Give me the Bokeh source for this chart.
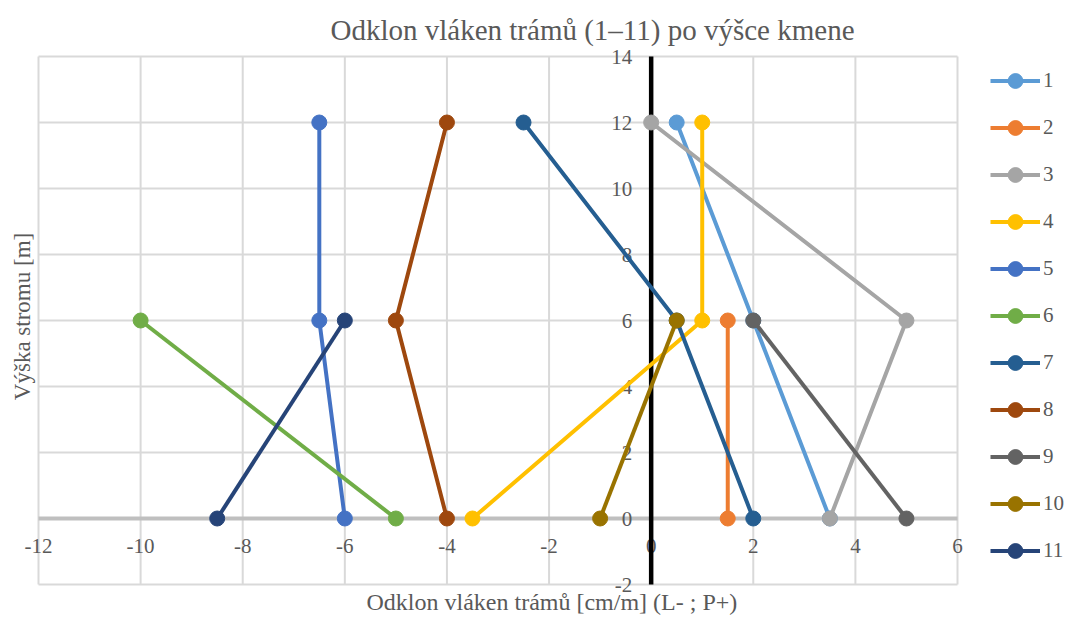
import math
from bokeh.plotting import figure
from bokeh.models import Legend, LegendItem, Range1d
from bokeh.core.properties import value
from bokeh.embed import file_html
from bokeh.resources import INLINE

# ---- data ----
series_labels = ["1", "2", "3", "4", "5", "6", "7", "8", "9", "10", "11"]
series_colors = ["#5B9BD5", "#ED7D31", "#A5A5A5", "#FFC000", "#4472C4", "#70AD47",
                 "#255E91", "#9E480E", "#636363", "#997300", "#264478"]

h1 = [0, 6, 12];  d1 = [3.5, 2.0, 0.5]
h2 = [0, 6];      d2 = [1.5, 1.5]
h3 = [0, 6, 12];  d3 = [3.5, 5.0, 0.0]
h4 = [0, 6, 12];  d4 = [-3.5, 1.0, 1.0]
h5 = [0, 6, 12];  d5 = [-6.0, -6.5, -6.5]
h6 = [0, 6];      d6 = [-5.0, -10.0]
h7 = [0, 6, 12];  d7 = [2.0, 0.5, -2.5]
h8 = [0, 6, 12];  d8 = [-4.0, -5.0, -4.0]
h9 = [0, 6];      d9 = [5.0, 2.0]
h10 = [0, 6];     d10 = [-1.0, 0.5]
h11 = [0, 6];     d11 = [-8.5, -6.0]

heights = [h1, h2, h3, h4, h5, h6, h7, h8, h9, h10, h11]
deviations = [d1, d2, d3, d4, d5, d6, d7, d8, d9, d10, d11]

x_ticks = [-12, -10, -8, -6, -4, -2, 0, 2, 4, 6]
x_tick_labels = ["-12", "-10", "-8", "-6", "-4", "-2", "0", "2", "4", "6"]
y_ticks = [-2, 0, 2, 4, 6, 8, 10, 12, 14]
y_tick_labels = ["-2", "0", "2", "4", "6", "8", "10", "12", "14"]

title_text = "Odklon vláken trámů (1–11) po výšce kmene"
x_title = "Odklon vláken trámů [cm/m] (L- ; P+)"
y_title = "Výška stromu [m]"

# axis extents
X0, X1, Y0, Y1 = -12, 6, -2, 14

# layout (pixels): canvas and plot-area box inside it
W, H = 1064, 617
PL, PR, PT, PB = 38, 957, 56, 584

FONT = "Liberation Serif"
TXT = "#595959"
GRID = "#D9D9D9"

sx = (PR - PL) / (X1 - X0)
sy = (PB - PT) / (Y1 - Y0)
xr = Range1d(X0 - PL / sx, X1 + (W - PR) / sx)
yr = Range1d(Y0 - (H - PB) / sy, Y1 + PT / sy)

p = figure(width=W, height=H, x_range=xr, y_range=yr,
           output_backend="svg", toolbar_location=None,
           x_axis_location=None, y_axis_location=None,
           min_border_left=0, min_border_right=0, min_border_top=0, min_border_bottom=0)
p.background_fill_color = "white"
p.border_fill_color = "white"
p.outline_line_color = None
p.xgrid.visible = False
p.ygrid.visible = False

# grid lines (every 2 units, including plot-area border)
p.segment(x0=x_ticks, y0=[Y0] * len(x_ticks), x1=x_ticks, y1=[Y1] * len(x_ticks),
          line_color=GRID, line_width=2)
p.segment(x0=[X0] * len(y_ticks), y0=y_ticks, x1=[X1] * len(y_ticks), y1=y_ticks,
          line_color=GRID, line_width=2)

# horizontal axis line through y=0
p.segment(x0=[X0], y0=[0], x1=[X1], y1=[0], line_color="#BFBFBF", line_width=4)

def txt(texts, xs, ys, size, align="center", dx=0, dy=0, angle=0.0):
    p.text(x=xs, y=ys, text=texts, x_offset=dx, y_offset=dy, angle=angle,
           text_align=value(align), text_baseline=value("middle"),
           text_font=value(FONT), text_font_size=value(size), text_color=TXT)

# tick labels along the axes through the origin
txt(x_tick_labels, x_ticks, [0] * len(x_ticks), "21px", dy=27)
txt(y_tick_labels, [0] * len(y_ticks), y_ticks, "21px", align="right", dx=-19)

# vertical axis line through x=0
p.segment(x0=[0], y0=[Y0], x1=[0], y1=[Y1], line_color="black", line_width=4.5)

# titles
txt([title_text], [X0], [Y1], "29px", align="left", dx=292, dy=-27)
txt([x_title], [X0], [Y0], "24px", align="left", dx=328, dy=17)
txt([y_title], [X0], [(Y0 + Y1) / 2], "23px", dx=-16, dy=-4, angle=math.pi / 2)

items = []
for lab, col, hs, ds in zip(series_labels, series_colors, heights, deviations):
    ln = p.line(ds, hs, line_color=col, line_width=4)
    sc = p.scatter(ds, hs, size=15, fill_color=col, line_color=col)
    items.append(LegendItem(label=lab, renderers=[ln, sc]))

legend = Legend(items=items, location=(990, 48), orientation="vertical",
                glyph_width=50, glyph_height=37, label_height=37,
                spacing=10, padding=0, margin=0, label_standoff=3,
                label_text_font=FONT, label_text_font_size="21px",
                label_text_color=TXT, border_line_color=None,
                background_fill_alpha=0)
p.add_layout(legend, "center")

open("out.html", "w").write(file_html(p, INLINE))
